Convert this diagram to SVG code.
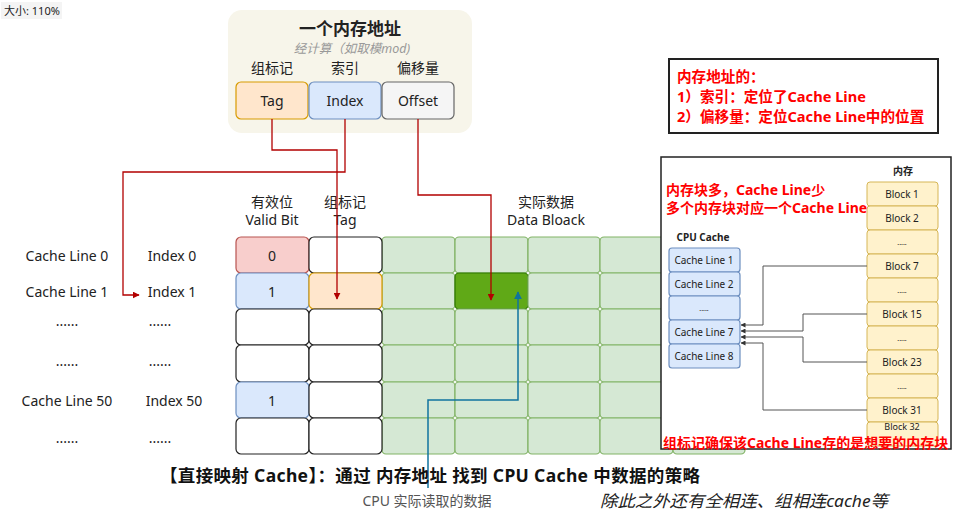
<svg xmlns="http://www.w3.org/2000/svg" width="967" height="520" viewBox="0 0 967 520">
<style>
text{font-family:"Noto Sans","Noto Sans CJK SC",sans-serif;fill:#222}
.t14{font-size:14px;text-anchor:middle}
.t10{font-size:10px;text-anchor:middle}
.red{fill:#ff0000;font-weight:bold;font-size:14px}
.g{fill:#d5e8d4;stroke:#82b366;stroke-width:1.2}
.w{fill:#ffffff;stroke:#222;stroke-width:1.2}
.b{fill:#dae8fc;stroke:#6c8ebf;stroke-width:1.2}
.o{fill:#ffe6cc;stroke:#d79b00;stroke-width:1.2}
.r{fill:#f8cecc;stroke:#b85450;stroke-width:1.2}
.y{fill:#fff2cc;stroke:#d6b656;stroke-width:1}
.rl{fill:none;stroke:#b20000;stroke-width:1.3}
.bl{fill:none;stroke:#10739e;stroke-width:1.5}
.gl{fill:none;stroke:#555;stroke-width:1}
</style>
<defs>
<marker id="ar" viewBox="0 0 10 10" refX="9" refY="5" markerWidth="7" markerHeight="7" orient="auto" markerUnits="userSpaceOnUse"><path d="M0,0 L10,5 L0,10 z" fill="#b20000"/></marker>
<marker id="ab" viewBox="0 0 10 10" refX="9" refY="5" markerWidth="8" markerHeight="8" orient="auto" markerUnits="userSpaceOnUse"><path d="M0,0 L10,5 L0,10 z" fill="#10739e"/></marker>
<marker id="ag" viewBox="0 0 10 10" refX="9" refY="5" markerWidth="5" markerHeight="5" orient="auto" markerUnits="userSpaceOnUse"><path d="M0,0 L10,5 L0,10 z" fill="#333"/></marker>
</defs>
<rect width="967" height="520" fill="#ffffff"/>
<g id="zoom-label"><rect x="1" y="2" width="61" height="17" fill="#f4f4f4"/><text x="4" y="15" font-size="11">大小: 110%</text></g>

<g id="address">
<rect x="228" y="10" width="244" height="123" rx="14" fill="#f7f5ea"/>
<text x="350" y="35" class="t14" style="font-size:17px;font-weight:bold">一个内存地址</text>
<text x="352" y="53" class="t14" style="font-size:12.5px;font-style:italic;fill:#999">经计算（如取模mod)</text>
<text x="272" y="73" class="t14">组标记</text>
<text x="345" y="73" class="t14">索引</text>
<text x="418" y="73" class="t14">偏移量</text>
<rect x="236" y="82" width="72" height="37" rx="5" class="o"/>
<text x="272" y="106" class="t14">Tag</text>
<rect x="309" y="82" width="72" height="37" rx="5" class="b"/>
<text x="345" y="106" class="t14">Index</text>
<rect x="382" y="82" width="72" height="37" rx="5" fill="#f5f5f5" stroke="#666" stroke-width="1.2"/>
<text x="418" y="106" class="t14">Offset</text>
</g>

<g id="headers">
<text x="272" y="207" class="t14">有效位</text>
<text x="272" y="225" class="t14">Valid Bit</text>
<text x="345" y="207" class="t14">组标记</text>
<text x="345" y="225" class="t14">Tag</text>
<text x="546" y="207" class="t14">实际数据</text>
<text x="546" y="225" class="t14">Data Bloack</text>
</g>

<g id="row-labels">
<text x="67" y="261" class="t14">Cache Line 0</text>
<text x="172" y="261" class="t14">Index 0</text>
<text x="67" y="297" class="t14">Cache Line 1</text>
<text x="172" y="297" class="t14">Index 1</text>
<text x="67" y="326" class="t14">......</text>
<text x="160" y="326" class="t14">......</text>
<text x="67" y="366" class="t14">......</text>
<text x="160" y="366" class="t14">......</text>
<text x="67" y="406" class="t14">Cache Line 50</text>
<text x="174" y="406" class="t14">Index 50</text>
<text x="67" y="443" class="t14">......</text>
<text x="160" y="443" class="t14">......</text>
</g>

<g id="data-grid">
<g id="data-cells">
<rect x="382" y="237" width="73" height="36" rx="4" class="g"/><rect x="455" y="237" width="73" height="36" rx="4" class="g"/><rect x="528" y="237" width="72" height="36" rx="4" class="g"/><rect x="600" y="237" width="73" height="36" rx="4" class="g"/><rect x="673" y="237" width="72" height="36" rx="4" class="g"/>
<rect x="382" y="273" width="73" height="36" rx="4" class="g"/><rect x="455" y="273" width="73" height="36" rx="4" fill="#60a917" stroke="#2d7600" stroke-width="1.2"/><rect x="528" y="273" width="72" height="36" rx="4" class="g"/><rect x="600" y="273" width="73" height="36" rx="4" class="g"/><rect x="673" y="273" width="72" height="36" rx="4" class="g"/>
<rect x="382" y="309" width="73" height="36" rx="4" class="g"/><rect x="455" y="309" width="73" height="36" rx="4" class="g"/><rect x="528" y="309" width="72" height="36" rx="4" class="g"/><rect x="600" y="309" width="73" height="36" rx="4" class="g"/><rect x="673" y="309" width="72" height="36" rx="4" class="g"/>
<rect x="382" y="345" width="73" height="37" rx="4" class="g"/><rect x="455" y="345" width="73" height="37" rx="4" class="g"/><rect x="528" y="345" width="72" height="37" rx="4" class="g"/><rect x="600" y="345" width="73" height="37" rx="4" class="g"/><rect x="673" y="345" width="72" height="37" rx="4" class="g"/>
<rect x="382" y="382" width="73" height="36" rx="4" class="g"/><rect x="455" y="382" width="73" height="36" rx="4" class="g"/><rect x="528" y="382" width="72" height="36" rx="4" class="g"/><rect x="600" y="382" width="73" height="36" rx="4" class="g"/><rect x="673" y="382" width="72" height="36" rx="4" class="g"/>
<rect x="382" y="418" width="73" height="36" rx="4" class="g"/><rect x="455" y="418" width="73" height="36" rx="4" class="g"/><rect x="528" y="418" width="72" height="36" rx="4" class="g"/><rect x="600" y="418" width="73" height="36" rx="4" class="g"/><rect x="673" y="418" width="72" height="36" rx="4" class="g"/>
</g>
<g id="valid-cells">
<rect x="236" y="237" width="73" height="36" rx="5" class="r"/><text x="272" y="261" class="t14">0</text>
<rect x="236" y="273" width="73" height="36" rx="5" class="b"/><text x="272" y="297" class="t14">1</text>
<rect x="236" y="309" width="73" height="36" rx="5" class="w"/>
<rect x="236" y="345" width="73" height="37" rx="5" class="w"/>
<rect x="236" y="382" width="73" height="36" rx="5" class="b"/><text x="272" y="406" class="t14">1</text>
<rect x="236" y="418" width="73" height="36" rx="5" class="w"/>
</g>
<g id="tag-cells">
<rect x="309" y="237" width="73" height="36" rx="5" class="w"/>
<rect x="309" y="273" width="73" height="36" rx="5" class="o"/>
<rect x="309" y="309" width="73" height="36" rx="5" class="w"/>
<rect x="309" y="345" width="73" height="37" rx="5" class="w"/>
<rect x="309" y="382" width="73" height="36" rx="5" class="w"/>
<rect x="309" y="418" width="73" height="36" rx="5" class="w"/>
</g>
</g>

<g id="connectors">
<path d="M345,119 V172 H123 V295 H139" class="rl" marker-end="url(#ar)"/>
<path d="M272,119 V150 H337 V299" class="rl" marker-end="url(#ar)"/>
<path d="M418,119 V195 H491 V300" class="rl" marker-end="url(#ar)"/>
<path d="M428,488 V400 H518 V292" class="bl" marker-end="url(#ab)"/>
</g>

<g id="cpu-read-label"><text x="427" y="506" class="t14" style="font-size:14px;fill:#555">CPU 实际读取的数据</text></g>

<g id="note-box">
<rect x="669" y="59" width="269" height="74" fill="#ffffff" stroke="#222" stroke-width="2"/>
<text x="677" y="82" class="red" style="font-size:14.6px">内存地址的：</text>
<text x="677" y="102" class="red" style="font-size:14.6px">1）索引：定位了Cache Line</text>
<text x="677" y="122" class="red" style="font-size:14.6px">2）偏移量：定位Cache Line中的位置</text>
</g>

<g id="mapping-panel">
<rect x="661" y="157" width="290" height="292" fill="#ffffff" stroke="#222" stroke-width="1.5"/>
<text x="903" y="175" class="t10" style="font-weight:bold">内存</text>
<g id="memory-blocks">
<rect x="867" y="182" width="71" height="24" rx="3" class="y"/><text x="902" y="198" class="t10">Block 1</text>
<rect x="867" y="206" width="71" height="24" rx="3" class="y"/><text x="902" y="222" class="t10">Block 2</text>
<rect x="867" y="230" width="71" height="24" rx="3" class="y"/><text x="902" y="245" class="t10" style="font-size:7px">.....</text>
<rect x="867" y="254" width="71" height="24" rx="3" class="y"/><text x="902" y="270" class="t10">Block 7</text>
<rect x="867" y="278" width="71" height="24" rx="3" class="y"/><text x="902" y="293" class="t10" style="font-size:7px">.....</text>
<rect x="867" y="302" width="71" height="24" rx="3" class="y"/><text x="902" y="318" class="t10">Block 15</text>
<rect x="867" y="326" width="71" height="24" rx="3" class="y"/><text x="902" y="341" class="t10" style="font-size:7px">.....</text>
<rect x="867" y="350" width="71" height="24" rx="3" class="y"/><text x="902" y="366" class="t10">Block 23</text>
<rect x="867" y="374" width="71" height="24" rx="3" class="y"/><text x="902" y="389" class="t10" style="font-size:7px">.....</text>
<rect x="867" y="398" width="71" height="24" rx="3" class="y"/><text x="902" y="414" class="t10">Block 31</text>
<rect x="867" y="422" width="71" height="24" rx="3" class="y"/><text x="902" y="430" class="t10" style="font-size:9px">Block 32</text>
</g>
<text x="703" y="241" class="t10" style="font-weight:bold">CPU Cache</text>
<g id="cache-lines">
<rect x="669" y="248" width="71" height="24" rx="3" class="b"/><text x="704" y="264" class="t10">Cache Line 1</text>
<rect x="669" y="272" width="71" height="24" rx="3" class="b"/><text x="704" y="288" class="t10">Cache Line 2</text>
<rect x="669" y="296" width="71" height="24" rx="3" class="b"/><text x="704" y="311" class="t10" style="font-size:7px">.....</text>
<rect x="669" y="320" width="71" height="24" rx="3" class="b"/><text x="704" y="336" class="t10">Cache Line 7</text>
<rect x="669" y="344" width="71" height="24" rx="3" class="b"/><text x="704" y="360" class="t10">Cache Line 8</text>
</g>
<g id="mapping-connectors">
<path d="M867,266 H763 V325 H741" class="gl" marker-end="url(#ag)"/>
<path d="M867,314 H803 V331 H741" class="gl" marker-end="url(#ag)"/>
<path d="M867,362 H803 V337 H741" class="gl" marker-end="url(#ag)"/>
<path d="M867,410 H763 V343 H741" class="gl" marker-end="url(#ag)"/>
</g>
<text x="666" y="195" class="red">内存块多，Cache Line少</text>
<text x="666" y="213" class="red">多个内存块对应一个Cache Line</text>
<text x="663" y="448" class="red">组标记确保该Cache Line存的是想要的内存块</text>
</g>

<g id="captions">
<text x="160" y="482" textLength="540" lengthAdjust="spacing" style="font-size:17.5px;font-weight:bold;fill:#111">【直接映射 Cache】：通过 内存地址 找到 CPU Cache 中数据的策略</text>
<text x="600" y="507" textLength="288" lengthAdjust="spacingAndGlyphs" style="font-size:16.5px;font-style:italic;fill:#222">除此之外还有全相连、组相连cache等</text>
</g>
</svg>
